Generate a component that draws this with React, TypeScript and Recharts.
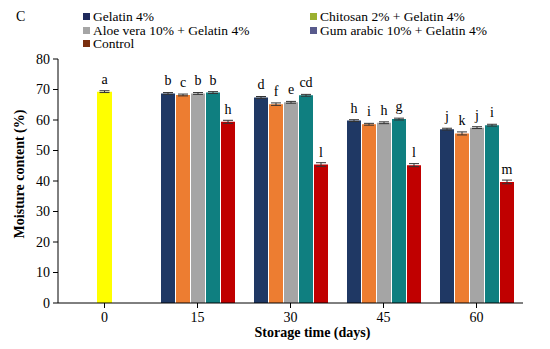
import { BarChart, Bar, XAxis, YAxis, ErrorBar, LabelList, Label, Legend } from 'recharts'

const days = ['0', '15', '30', '45', '60']
const seriesNames = [
  'Gelatin 4%',
  'Chitosan 2% + Gelatin 4%',
  'Aloe vera 10% + Gelatin 4%',
  'Gum arabic 10% + Gelatin 4%',
  'Control',
]

// moisture content (%)
const initial = [69.3, null, null, null, null]
const gelatin = [null, 68.7, 67.4, 59.8, 57.0]
const chitosan = [null, 68.2, 65.2, 58.6, 55.6]
const aloe = [null, 68.7, 65.8, 59.1, 57.5]
const gum = [null, 69.0, 68.1, 60.3, 58.3]
const control = [null, 59.4, 45.4, 45.2, 39.7]

const initialErr = [0.3, 0, 0, 0, 0]
const gelatinErr = [0, 0.3, 0.3, 0.3, 0.3]
const chitosanErr = [0, 0.3, 0.4, 0.3, 0.5]
const aloeErr = [0, 0.3, 0.3, 0.3, 0.3]
const gumErr = [0, 0.3, 0.3, 0.3, 0.3]
const controlErr = [0, 0.5, 0.6, 0.5, 0.6]

const initialLetters = ['a', '', '', '', '']
const gelatinLetters = ['', 'b', 'd', 'h', 'j']
const chitosanLetters = ['', 'c', 'f', 'i', 'k']
const aloeLetters = ['', 'b', 'e', 'h', 'j']
const gumLetters = ['', 'b', 'cd', 'g', 'i']
const controlLetters = ['', 'h', 'l', 'l', 'm']

const yTicks = [0, 10, 20, 30, 40, 50, 60, 70, 80]

const barColors = ['#1f3864', '#ed7d31', '#a5a5a5', '#0f7f80', '#c00000']
const legendColors = ['#1f2a5c', '#9bb030', '#a5a5a5', '#585a8c', '#7a2e0e']
const initialColor = '#ffff00'

const keys = ['gelatin', 'chitosan', 'aloe', 'gum', 'control']

const data = days.map((d, i) => ({
  day: d,
  initial: initial[i],
  gelatin: gelatin[i],
  chitosan: chitosan[i],
  aloe: aloe[i],
  gum: gum[i],
  control: control[i],
  initialErr: initialErr[i],
  gelatinErr: gelatinErr[i],
  chitosanErr: chitosanErr[i],
  aloeErr: aloeErr[i],
  gumErr: gumErr[i],
  controlErr: controlErr[i],
  initialLbl: initialLetters[i],
  gelatinLbl: gelatinLetters[i],
  chitosanLbl: chitosanLetters[i],
  aloeLbl: aloeLetters[i],
  gumLbl: gumLetters[i],
  controlLbl: controlLetters[i],
}))

const serif = '"Liberation Serif", "Times New Roman", serif'

function LegendBox() {
  return (
    <div
      style={{
        display: 'grid',
        gridTemplateColumns: '227px 230px',
        fontFamily: serif,
        fontSize: 13.5,
        lineHeight: '13.5px',
        color: '#000',
      }}
    >
      {seriesNames.map((name, i) => (
        <div key={name} style={{ display: 'flex', alignItems: 'center', whiteSpace: 'nowrap' }}>
          <span style={{ width: 7, height: 7, background: legendColors[i], marginRight: 3, display: 'inline-block' }} />
          {name}
        </div>
      ))}
    </div>
  )
}

export default function App() {
  return (
    <div style={{ position: 'relative', width: 550, height: 349, margin: -8, background: '#fff' }}>
      <div
        style={{
          position: 'absolute',
          left: 3,
          top: 3,
          width: 540,
          height: 341,
          border: '1px solid #d9d9d9',
          boxSizing: 'border-box',
        }}
      />
      <div style={{ position: 'absolute', left: 16, top: 9, fontFamily: serif, fontSize: 14 }}>C</div>
      <BarChart
        width={550}
        height={349}
        data={data}
        margin={{ top: 59, right: 27, bottom: 16, left: 0 }}
        barSize={14}
        barGap={1}
      >
        <XAxis
          xAxisId="main"
          dataKey="day"
          stroke="#000"
          tickSize={5}
          tickMargin={4}
          tick={{ fill: '#000', fontSize: 14, fontFamily: serif }}
        >
          <Label
            content={({ viewBox }: any) => (
              <text
                x={viewBox.x + viewBox.width / 2 + 22}
                y={viewBox.y + 34}
                textAnchor="middle"
                fontFamily={serif}
                fontWeight="bold"
                fontSize={14}
                fill="#000"
              >
                Storage time (days)
              </text>
            )}
          />
        </XAxis>
        <XAxis xAxisId="init" dataKey="day" orientation="top" height={0} hide />
        <YAxis
          domain={[0, 80]}
          ticks={yTicks}
          width={58}
          stroke="#000"
          tickSize={5}
          tickMargin={3}
          tick={{ fill: '#000', fontSize: 14, fontFamily: serif }}
        >
          <Label
            content={({ viewBox }: any) => {
              const cx = 19
              const cy = viewBox.y + viewBox.height / 2 - 7
              return (
                <text
                  x={cx}
                  y={cy}
                  transform={`rotate(-90, ${cx}, ${cy})`}
                  textAnchor="middle"
                  dominantBaseline="central"
                  fontFamily={serif}
                  fontWeight="bold"
                  fontSize={14}
                  fill="#000"
                >
                  Moisture content (%)
                </text>
              )
            }}
          />
        </YAxis>
        <Legend
          layout="vertical"
          align="center"
          verticalAlign="middle"
          wrapperStyle={{ top: 10, left: 83, width: 460 }}
          content={() => <LegendBox />}
        />
        <Bar
          xAxisId="init"
          dataKey="initial"
          fill={initialColor}
          barSize={15}
          legendType="none"
          isAnimationActive={false}
        >
          <ErrorBar dataKey="initialErr" width={5} stroke="#333" strokeWidth={1} />
          <LabelList dataKey="initialLbl" position="top" offset={8} fill="#000" fontSize={14} fontFamily={serif} />
        </Bar>
        {keys.map((k, i) => (
          <Bar
            key={k}
            xAxisId="main"
            dataKey={k}
            name={seriesNames[i]}
            fill={barColors[i]}
            isAnimationActive={false}
          >
            <ErrorBar dataKey={`${k}Err`} width={5} stroke="#333" strokeWidth={1} />
            <LabelList dataKey={`${k}Lbl`} position="top" offset={8} fill="#000" fontSize={14} fontFamily={serif} />
          </Bar>
        ))}
      </BarChart>
    </div>
  )
}
